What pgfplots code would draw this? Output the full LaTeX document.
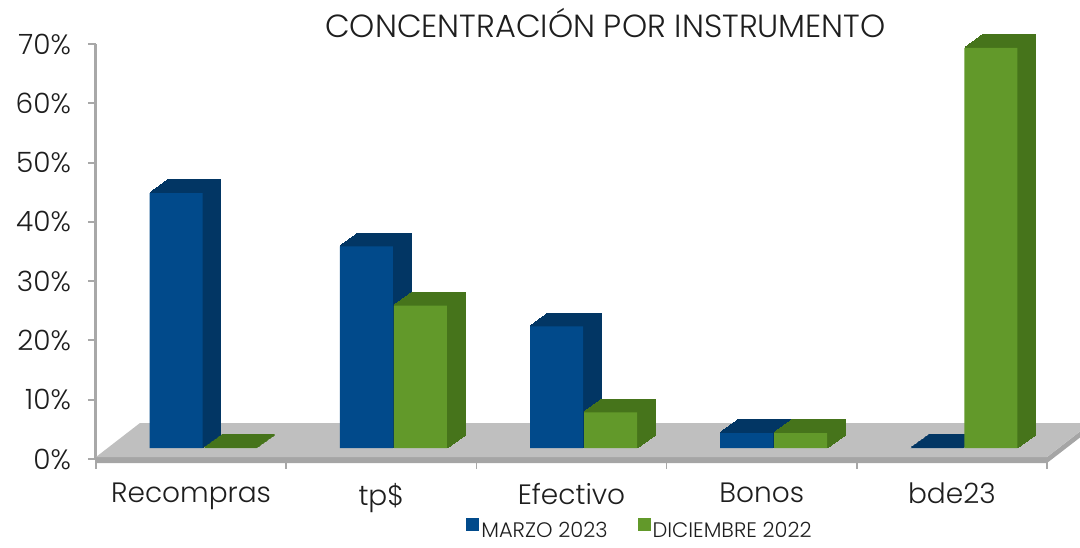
\documentclass[border=0pt]{standalone}
\usepackage{pgfplots}
\usepackage{pgfplotstable}
\pgfplotsset{compat=1.18}
\usepackage{fontspec}
\setmainfont{Poppins Light}
\definecolor{blueF}{RGB}{1,74,139}
\definecolor{blueD}{RGB}{2,54,100}
\definecolor{greenF}{RGB}{98,153,42}
\definecolor{greenD}{RGB}{70,116,27}
\definecolor{floorT}{RGB}{191,191,191}
\definecolor{floorE}{RGB}{165,165,165}
\definecolor{axgray}{RGB}{168,168,168}
\definecolor{txt}{RGB}{30,30,30}

\pgfplotstableread{
x marzo dic
0 43   0
1 34   24
2 20.5 6
3 2.5  2.5
4 0    67.5
}\datatable

\begin{document}
\begin{tikzpicture}
\begin{axis}[
  scale only axis, width=475.5pt, height=207.5pt,
  ymin=0, ymax=70, xmin=-0.5, xmax=4.5, enlargelimits=false,
  ybar, bar width=26.5pt,
  clip=false,
  axis lines*=left,
  x axis line style={draw=none},
  y axis line style={draw=axgray, line width=1.5pt},
  tick align=outside,
  ytick={0,10,...,70},
  yticklabels={0\%,10\%,20\%,30\%,40\%,50\%,60\%,70\%},
  ytick style={draw=axgray, line width=1pt},
  major tick length=4pt,
  xtick={0,...,4},
  xticklabels={Recompras, tp\$, Efectivo, Bonos, bde23},
  major x tick style={draw=none},
  minor xtick={-0.5,0.5,...,4.5},
  minor x tick style={draw=axgray, line width=0.8pt},
  minor tick length=5pt,
  every tick label/.append style={font=\fontsize{14}{16}\selectfont, text=txt},
  yticklabel style={xshift=-5pt},
  xticklabel style={yshift=-4.5pt},
  title={CONCENTRACIÓN POR INSTRUMENTO},
  title style={font=\fontsize{16}{18}\selectfont, text=txt, at={(0.5,1)}, anchor=center, yshift=4.5pt, xshift=17pt},
  legend style={at={(0.572,-0.172)}, anchor=center, legend columns=2, draw=none, fill=none,
    font=\fontsize{10.5}{12}\selectfont, text=txt,
    nodes={inner sep=1pt},
    /tikz/every even column/.append style={column sep=14pt},
    legend cell align=left, inner sep=0pt},
  legend image code/.code={\fill[#1] (0pt,-5.6pt) rectangle (6.5pt,0.9pt);},
]
% floor
\fill[floorE] ([yshift=-2pt]rel axis cs:0,0) -- ([yshift=-2pt]rel axis cs:1,0)
   -- ([xshift=22pt,yshift=15pt]rel axis cs:1,0) -- ([xshift=22pt,yshift=18pt]rel axis cs:1,0)
   -- ([yshift=1pt]rel axis cs:1,0) -- ([yshift=1pt]rel axis cs:0,0) -- cycle;
\fill[floorT] ([yshift=1pt]rel axis cs:0,0) -- ([yshift=1pt]rel axis cs:1,0)
   -- ([xshift=22pt,yshift=18pt]rel axis cs:1,0) -- ([xshift=22pt,yshift=18pt]rel axis cs:0,0) -- cycle;

% MARZO 2023
\pgfplotsinvokeforeach{18,17,...,1}{
  \addplot[forget plot, fill=blueD, draw=blueD, line width=0.8pt, bar shift=-13.5pt,
    xshift={6pt+#1*0.5pt}, yshift={5.5pt+#1*0.361pt}] table[x=x,y=marzo]{\datatable};
}
\addplot[fill=blueF, draw=none, bar shift=-13.5pt, xshift=6pt, yshift=5.5pt]
  table[x=x,y=marzo]{\datatable};
\addlegendentry{MARZO 2023}

% DICIEMBRE 2022
\pgfplotsinvokeforeach{18,17,...,1}{
  \addplot[forget plot, fill=greenD, draw=greenD, line width=0.8pt, bar shift=13.5pt,
    xshift={6pt+#1*0.5pt}, yshift={5.5pt+#1*0.361pt}] table[x=x,y=dic]{\datatable};
}
\addplot[fill=greenF, draw=none, bar shift=13.5pt, xshift=6pt, yshift=5.5pt]
  table[x=x,y=dic]{\datatable};
\addlegendentry{DICIEMBRE 2022}
\end{axis}
\pgfresetboundingbox
\path[use as bounding box] (current axis.south west) ++(-48pt,-44pt) rectangle ++(540pt,273.5pt);
\end{tikzpicture}
\end{document}
